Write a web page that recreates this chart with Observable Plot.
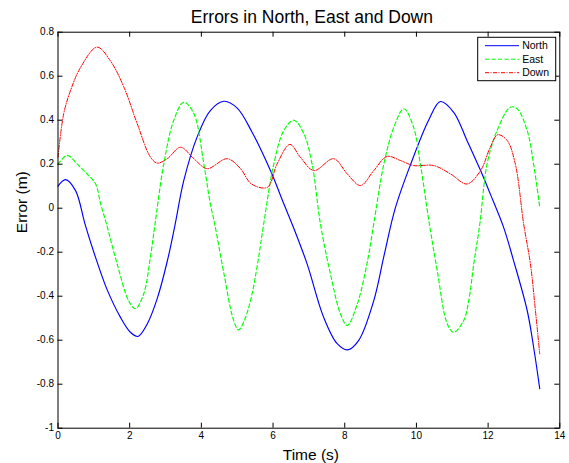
<!DOCTYPE html>
<html><head><meta charset="utf-8">
<script src="https://cdn.jsdelivr.net/npm/d3@7"></script>
<script src="https://cdn.jsdelivr.net/npm/@observablehq/plot@0.6"></script>
<style>body{margin:0;background:#fff;} #chart{width:569px;height:463px;}</style>
</head><body><div id="chart"></div>
<script>
const seriesNames = ["North", "East", "Down"];
const seriesColors = ["#0000ff", "#00ff00", "#ff0000"];
const seriesDash = [null, "4,2.5", "4,1.5,1,1.5"];

const northT = [0, 0.21, 0.49, 0.75, 1.0, 1.37, 1.74, 2.02, 2.23, 2.49, 2.77, 3.05, 3.26, 3.51, 3.88, 4.25, 4.63, 5.0, 5.4, 5.93, 6.3, 6.6, 6.95, 7.41, 7.79, 8.08, 8.39, 8.81, 9.09, 9.41, 9.84, 10.34, 10.67, 11.04, 11.41, 11.79, 12.06, 12.43, 12.71, 13.09, 13.27, 13.44];
const northV = [0.10, 0.13, 0.08, -0.07, -0.20, -0.37, -0.495, -0.564, -0.583, -0.526, -0.41, -0.24, -0.08, 0.126, 0.323, 0.444, 0.486, 0.455, 0.35, 0.17, 0.02, -0.10, -0.253, -0.495, -0.616, -0.644, -0.601, -0.42, -0.22, 0.0, 0.2, 0.4, 0.485, 0.436, 0.308, 0.171, 0.065, -0.086, -0.238, -0.465, -0.632, -0.82];

const eastT = [0, 0.26, 0.54, 0.81, 1.05, 1.19, 1.35, 1.65, 1.97, 2.16, 2.39, 2.58, 2.70, 2.95, 3.23, 3.51, 3.79, 4.07, 4.25, 4.37, 4.63, 4.9, 5.04, 5.2, 5.4, 5.57, 5.74, 6.02, 6.3, 6.58, 6.86, 7.09, 7.32, 7.6, 7.88, 8.07, 8.35, 8.62, 8.81, 9.09, 9.37, 9.65, 9.92, 10.11, 10.36, 10.58, 10.86, 11.04, 11.32, 11.46, 11.6, 11.77, 11.97, 12.25, 12.62, 12.81, 13.09, 13.27, 13.44];
const eastV = [0.20, 0.24, 0.20, 0.156, 0.11, 0.02, -0.07, -0.253, -0.42, -0.457, -0.39, -0.22, -0.08, 0.2, 0.4, 0.482, 0.43, 0.2, 0.02, -0.07, -0.298, -0.51, -0.553, -0.51, -0.40, -0.25, -0.07, 0.2, 0.353, 0.4, 0.338, 0.2, -0.07, -0.298, -0.48, -0.533, -0.435, -0.253, -0.07, 0.2, 0.368, 0.452, 0.368, 0.2, -0.07, -0.283, -0.525, -0.564, -0.51, -0.42, -0.253, -0.07, 0.2, 0.353, 0.459, 0.452, 0.353, 0.2, 0.005];

const downT = [0, 0.16, 0.35, 0.63, 1.09, 1.46, 1.84, 2.21, 2.58, 2.77, 3.05, 3.42, 3.79, 4.16, 4.72, 5.09, 5.4, 5.84, 6.11, 6.47, 6.76, 7.14, 7.69, 8.07, 8.44, 8.81, 9.18, 9.55, 9.92, 10.48, 10.95, 11.41, 11.79, 12.06, 12.27, 12.53, 12.76, 12.99, 13.18, 13.32, 13.44];
const downV = [0.232, 0.43, 0.535, 0.64, 0.732, 0.67, 0.55, 0.384, 0.232, 0.205, 0.225, 0.277, 0.225, 0.18, 0.225, 0.18, 0.11, 0.095, 0.2, 0.29, 0.232, 0.171, 0.225, 0.156, 0.103, 0.171, 0.235, 0.217, 0.194, 0.194, 0.156, 0.11, 0.171, 0.277, 0.334, 0.308, 0.2, -0.07, -0.253, -0.465, -0.662];

const xTicks = [0, 2, 4, 6, 8, 10, 12, 14];
const yTicks = [-1, -0.8, -0.6, -0.4, -0.2, 0, 0.2, 0.4, 0.6, 0.8];
const titleText = "Errors in North, East and Down";
const xLabel = "Time (s)";
const yLabel = "Error (m)";

const W = 569, H = 463, mL = 57.5, mR = 9.7, mT = 31.7, mB = 35.3;
const frameW = W - mL - mR, frameH = H - mT - mB;
const font = "'Liberation Sans', Arial, Helvetica, sans-serif";

const toRows = (ts, vs) => ts.map((t, i) => ({t, v: vs[i]}));
const seriesData = [toRows(northT, northV), toRows(eastT, eastV), toRows(downT, downV)];

const lineMarks = seriesData.map((data, i) => Plot.line(data, {
  x: "t", y: "v", stroke: seriesColors[i], strokeWidth: i === 2 ? 1 : 1.15,
  strokeDasharray: seriesDash[i] || undefined, curve: "catmull-rom"
}));

function legend() {
  const g = d3.create("svg:g").attr("font-family", font).attr("text-anchor", "start");
  const bx = W - mR - 3.6, by = mT + 5.6, bw = 78, bh = 43.4;
  g.append("rect").attr("x", bx - bw).attr("y", by).attr("width", bw).attr("height", bh)
    .attr("fill", "white").attr("stroke", "black").attr("stroke-width", 1);
  seriesNames.forEach((n, i) => {
    const y = by + 8.4 + i * 13.5;
    const l = g.append("line").attr("x1", bx - bw + 7.3).attr("x2", bx - bw + 41.3)
      .attr("y1", y).attr("y2", y).attr("stroke", seriesColors[i]).attr("stroke-width", 1);
    if (seriesDash[i]) l.attr("stroke-dasharray", seriesDash[i]);
    g.append("text").attr("x", bx - bw + 44.5).attr("y", y).attr("dy", "0.35em")
      .attr("text-anchor", "start").attr("font-size", 10.5).attr("fill", "black").text(n);
  });
  return g.node();
}

const chart = Plot.plot({
  width: W, height: H, marginLeft: mL, marginRight: mR, marginTop: mT, marginBottom: mB,
  style: {fontFamily: font, background: "#fff", color: "black"},
  x: {domain: [0, 14], ticks: xTicks, tickSize: 0, tickPadding: 4, tickFormat: d => String(d), label: null},
  y: {domain: [-1, 0.8], ticks: yTicks, tickSize: 0, tickPadding: 4, tickFormat: d => String(d), label: null},
  marks: [
    ...lineMarks,
    Plot.tickX(xTicks, {x: d => d, insetTop: frameH - 5, stroke: "black"}),
    Plot.tickX(xTicks, {x: d => d, insetBottom: frameH - 5, stroke: "black"}),
    Plot.tickY(yTicks, {y: d => d, insetRight: frameW - 5, stroke: "black"}),
    Plot.tickY(yTicks, {y: d => d, insetLeft: frameW - 5, stroke: "black"}),
    Plot.frame({stroke: "black", strokeWidth: 1}),
    Plot.text([titleText], {text: d => d, frameAnchor: "top", lineAnchor: "bottom", dy: -9, dx: 3, fontSize: 17.5, fontWeight: 400, fill: "black"}),
    Plot.text([xLabel], {text: d => d, frameAnchor: "bottom", lineAnchor: "bottom", dy: 31.3, dx: 2, fontSize: 15.5, fontWeight: 400, fill: "black"}),
    Plot.text([yLabel], {text: d => d, frameAnchor: "left", lineAnchor: "bottom", rotate: -90, dx: -31.5, dy: 3, fontSize: 15.5, fontWeight: 400, fill: "black"}),
    legend
  ]
});
document.getElementById("chart").appendChild(chart);
</script>
</body></html>
